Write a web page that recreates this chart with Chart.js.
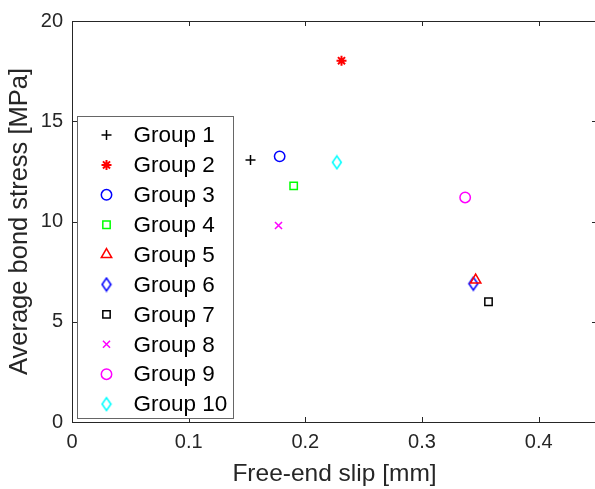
<!DOCTYPE html>
<html>
<head>
<meta charset="utf-8">
<script src="https://cdn.jsdelivr.net/npm/chart.js@4.4.1/dist/chart.umd.min.js"></script>
<style>
  html, body { margin: 0; padding: 0; background: #fff; overflow: hidden; }
  #wrap { width: 595px; height: 489px; overflow: hidden; position: relative; }
  canvas { display: block; }
</style>
</head>
<body>
<div id="wrap"><canvas id="slipChart" width="600" height="489"></canvas></div>
<script>
// values
const groups = ['Group 1', 'Group 2', 'Group 3', 'Group 4', 'Group 5',
                'Group 6', 'Group 7', 'Group 8', 'Group 9', 'Group 10'];
const slip   = [0.153, 0.231, 0.178, 0.190, 0.346, 0.344, 0.357, 0.177, 0.337, 0.227];
const stress = [13.07, 18.02, 13.25, 11.78, 7.08, 6.90, 6.00, 9.80, 11.20, 12.95];
const xTicks = [0, 0.1, 0.2, 0.3, 0.4];
const yTicks = [0, 5, 10, 15, 20];

// marker style per group (matlab-ish)
const markers = ['cross', 'star', 'circle', 'rect', 'triangle', 'diamond', 'rect', 'crossRot', 'circle', 'diamond'];
const colors  = ['#000000', '#ff0000', '#0000ff', '#00ff00', '#ff0000', '#0000ff', '#000000', '#ff00ff', '#ff00ff', '#00ffff'];
const radii   = [5, 5, 5.2, 5.2, 6, 6, 5.2, 5, 5.2, 6];
const axisColor = '#262626';
const fontFamily = '"Liberation Sans", Arial, Helvetica, sans-serif';

// matlab diamond is taller than wide, chart.js rectRot is not
function diamond(color) {
    const c = document.createElement('canvas');
    c.width = 12; c.height = 16;
    const g = c.getContext('2d');
    g.strokeStyle = color;
    g.lineWidth = 1.6;
    g.beginPath();
    g.moveTo(6, 1.6); g.lineTo(10.4, 8); g.lineTo(6, 14.4); g.lineTo(1.6, 8);
    g.closePath();
    g.stroke();
    return c;
}

const datasets = groups.map((g, i) => ({
    label: g,
    data: [{ x: slip[i], y: stress[i] }],
    pointStyle: markers[i] === 'diamond' ? diamond(colors[i]) : markers[i],
    pointRadius: radii[i],
    pointHoverRadius: radii[i],
    borderColor: colors[i],
    backgroundColor: 'rgba(0,0,0,0)',
    pointBorderWidth: markers[i] === 'star' ? 2 : 1.5,
    showLine: false
}));

// box + inward ticks on all four sides
const boxAxes = {
    id: 'boxAxes',
    afterDraw(chart) {
        const { ctx, chartArea: a, scales } = chart;
        const len = 5;
        ctx.save();
        ctx.strokeStyle = axisColor;
        ctx.lineWidth = 1;
        ctx.beginPath();
        ctx.rect(a.left + 0.5, a.top + 0.5, a.right - a.left, a.bottom - a.top);
        scales.x.ticks.forEach(t => {
            const px = Math.round(scales.x.getPixelForValue(t.value)) + 0.5;
            ctx.moveTo(px, a.bottom); ctx.lineTo(px, a.bottom - len);
            ctx.moveTo(px, a.top); ctx.lineTo(px, a.top + len);
        });
        scales.y.ticks.forEach(t => {
            const py = Math.round(scales.y.getPixelForValue(t.value)) + 0.5;
            ctx.moveTo(a.left, py); ctx.lineTo(a.left + len, py);
            ctx.moveTo(a.right, py); ctx.lineTo(a.right - len, py);
        });
        ctx.stroke();
        ctx.restore();
    }
};

// legend box inside the axes, like matlab 'west'
const boxLegend = {
    id: 'boxLegend',
    afterDraw(chart) {
        const { ctx, chartArea: a } = chart;
        const x0 = Math.round(a.left) + 5.5, y0 = Math.round(a.top) + 95.5;
        const w = 156, h = 302, rowH = 29.9;
        ctx.save();
        ctx.fillStyle = '#ffffff';
        ctx.fillRect(x0, y0, w, h);
        ctx.strokeStyle = '#666666';
        ctx.lineWidth = 1;
        ctx.strokeRect(x0, y0, w, h);
        ctx.font = '22.5px ' + fontFamily;
        ctx.textBaseline = 'middle';
        chart.data.datasets.forEach((ds, i) => {
            const cy = y0 + 18.5 + i * rowH;
            ctx.strokeStyle = ds.borderColor;
            ctx.fillStyle = 'rgba(0,0,0,0)';
            ctx.lineWidth = ds.pointBorderWidth;
            Chart.helpers.drawPoint(ctx, { pointStyle: ds.pointStyle, radius: ds.pointRadius, rotation: 0, borderWidth: ds.pointBorderWidth }, x0 + 29, cy);
            ctx.fillStyle = '#000000';
            ctx.fillText(ds.label, x0 + 56, cy + 1);
        });
        ctx.restore();
    }
};

new Chart(document.getElementById('slipChart').getContext('2d'), {
    type: 'scatter',
    data: { datasets },
    plugins: [boxAxes, boxLegend],
    options: {
        responsive: false,
        animation: false,
        events: [],
        // right edge of the axes box sits just past the window, as in the figure
        layout: { autoPadding: false, padding: { top: 18, right: 3, left: 0, bottom: 0 } },
        plugins: { legend: { display: false }, tooltip: { enabled: false } },
        scales: {
            x: {
                type: 'linear',
                min: 0, max: 0.45,
                afterBuildTicks: s => { s.ticks = xTicks.map(v => ({ value: v })); },
                afterFit: s => { s.height = 67; },
                grid: { display: false, drawTicks: false },
                border: { display: false },
                ticks: {
                    color: axisColor, padding: 8,
                    font: { family: fontFamily, size: 20 },
                    callback: v => String(v)
                },
                title: {
                    display: true, text: 'Free-end slip [mm]', color: axisColor,
                    font: { family: fontFamily, size: 24.5 }, padding: { top: 6, bottom: 0 }
                }
            },
            y: {
                type: 'linear',
                min: 0, max: 20,
                afterBuildTicks: s => { s.ticks = yTicks.map(v => ({ value: v })); },
                afterFit: s => { s.width = 72; },
                grid: { display: false, drawTicks: false },
                border: { display: false },
                ticks: {
                    color: axisColor, padding: 9,
                    font: { family: fontFamily, size: 20 }
                },
                title: {
                    display: true, text: 'Average bond stress [MPa]', color: axisColor,
                    font: { family: fontFamily, size: 25.5 }, padding: { top: 5, bottom: 0 }
                }
            }
        }
    }
});
</script>
</body>
</html>
